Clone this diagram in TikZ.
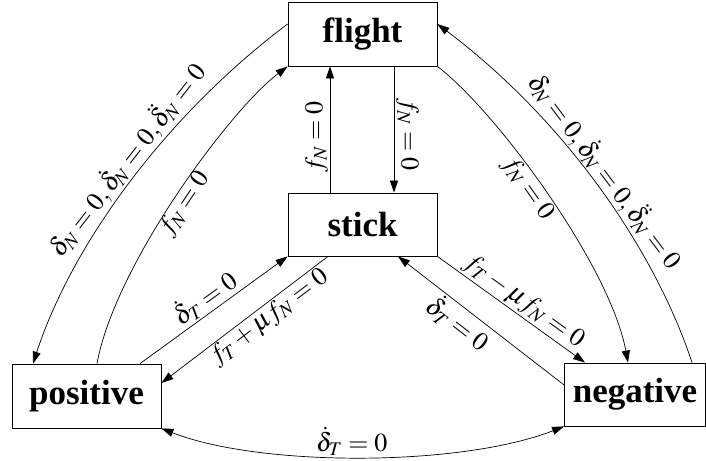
\documentclass[tikz,border=0pt]{standalone}
\usepackage{mathptmx}
\usepackage{fontspec}
\setmainfont{Liberation Serif}
\usetikzlibrary{arrows.meta}
\begin{document}
\begin{tikzpicture}[x=1pt,y=-1pt,
  >={Triangle[length=12pt,width=8pt]},
  box/.style={draw, line width=0.8pt, minimum width=149pt, minimum height=64pt, inner sep=0pt, font=\fontsize{35}{40}\selectfont\bfseries},
  arr/.style={->, line width=0.7pt},
  darr/.style={<->, line width=0.7pt},
  lab/.style={font=\fontsize{26}{30}\selectfont, inner sep=1.5pt}]
\useasboundingbox (0,0) rectangle (706,460);
\node[box] (flight) at (362.5,34) {flight};
\node[box, minimum height=63pt] (stick) at (362.5,224.5) {stick};
\node[box] (positive) at (86.5,396) {positive};
\node[box, minimum width=141pt, minimum height=63pt] (negative) at (635,394.5) {negative};
% left curves
\draw[arr] ([yshift=10pt]flight.west) .. controls (160,120) and (70,250) .. ([xshift=-53.5pt]positive.north)
  node[lab, pos=0.45, sloped, above] {$\delta_N=0,\dot\delta_N=0,\ddot\delta_N=0$};
\draw[arr] ([xshift=10.5pt]positive.north) .. controls (115,265) and (230,110) .. (flight.south west)
  node[lab, pos=0.49, sloped, below, inner sep=0pt] {$f_N=0$};
% right curves
\draw[arr] ([xshift=57pt]negative.north) .. controls (655,250) and (565,120) .. ([yshift=10pt]flight.east)
  node[lab, pos=0.52, sloped, above, inner sep=0pt] {$\delta_N=0,\dot\delta_N=0,\ddot\delta_N=0$};
\draw[arr] (flight.south east) .. controls (495,110) and (610,265) .. ([xshift=-7pt]negative.north)
  node[lab, pos=0.46, sloped, below] {$f_N=0$};
% verticals
\draw[arr] ([xshift=-32.5pt]stick.north) -- ([xshift=-32.5pt]flight.south)
  node[lab, pos=0.44, rotate=90, anchor=south] {$f_N=0$};
\draw[arr] ([xshift=31.5pt]flight.south) -- ([xshift=31.5pt]stick.north)
  node[lab, pos=0.54, rotate=-90, anchor=south] {$f_N=0$};
% diagonals
\draw[arr] ([xshift=53.5pt]positive.north) -- (stick.south west)
  node[lab, midway, sloped, above] {$\dot\delta_T=0$};
\draw[arr] ([xshift=-34.5pt]stick.south) -- ([yshift=13pt]positive.east)
  node[lab, pos=0.4, sloped, below] {$f_T+\mu f_N=0$};
\draw[arr] (stick.south east) -- ([xshift=-50pt]negative.north)
  node[lab, pos=0.53, sloped, above] {$f_T-\mu f_N=0$};
\draw[arr] ([yshift=9.5pt]negative.west) -- ([xshift=35.5pt]stick.south)
  node[lab, pos=0.58, sloped, below] {$\dot\delta_T=0$};
% bottom
\draw[darr] (positive.south east) .. controls (260,467) and (460,467) .. (negative.south west)
  node[lab, pos=0.48, above] {$\dot\delta_T=0$};
\end{tikzpicture}
\end{document}
